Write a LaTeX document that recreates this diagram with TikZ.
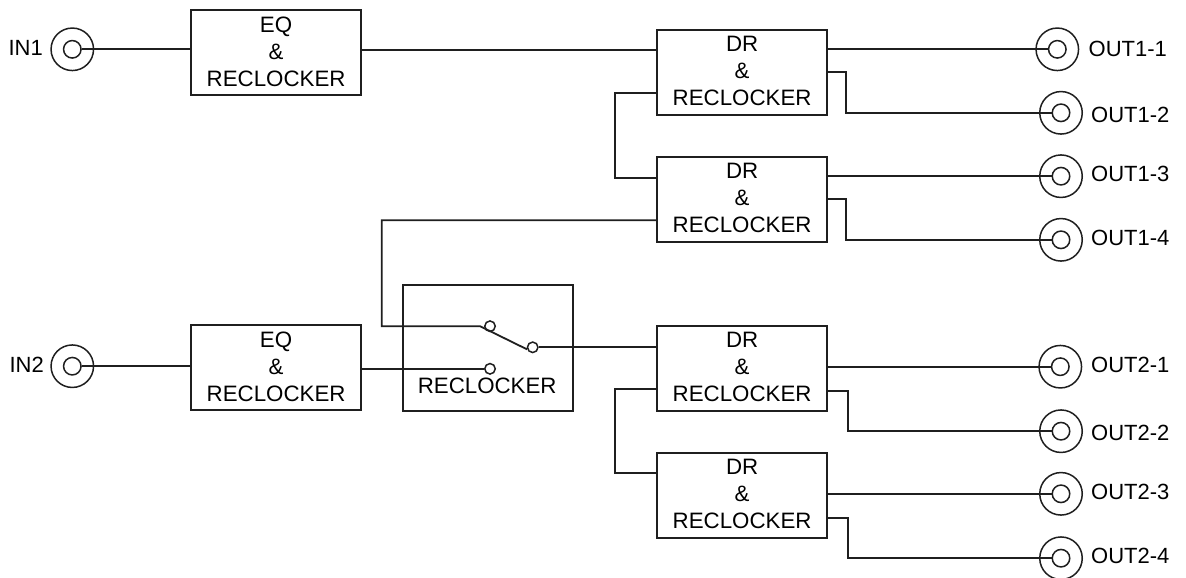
\documentclass[tikz,border=0pt]{standalone}
\usepackage{fontspec}
\setmainfont{Liberation Sans}
\tikzset{
  wire/.style={draw=black!88,line width=1.8pt,line join=miter},
  unit/.style={draw=black!88,line width=1.8pt,minimum width=170pt,minimum height=85pt,inner sep=0pt,align=center,font=\fontsize{22.3}{27}\selectfont,anchor=north west,text depth=4pt},
  outer/.style={circle,draw=black!88,line width=1.5pt,minimum size=42.5pt,inner sep=0pt},
  inner/.style={circle,draw=black!88,line width=1.5pt,minimum size=17.5pt,inner sep=0pt},
  contact/.style={circle,draw=black!88,line width=1.5pt,minimum size=10.5pt,inner sep=0pt},
  lab/.style={font=\fontsize{22}{26}\selectfont,inner sep=0pt},
}
\begin{document}
\begin{tikzpicture}[x=1pt,y=-1pt]
\useasboundingbox (0,0) rectangle (1186,578);
\node[unit,text depth=0.5pt] (eqa) at (190.2,8.8) {EQ\\\&\\RECLOCKER};
\node[unit,text depth=2.5pt] (eqb) at (190.2,324.2) {EQ\\\&\\RECLOCKER};
\node[unit,text depth=2.5pt] (dra) at (656.2,28.8) {DR\\\&\\RECLOCKER};
\node[unit,text depth=2pt] (drb) at (656.2,155.8) {DR\\\&\\RECLOCKER};
\node[unit,text depth=3pt] (drc) at (656.2,325.2) {DR\\\&\\RECLOCKER};
\node[unit,text depth=3.5pt] (drd) at (656.2,452.2) {DR\\\&\\RECLOCKER};
\node[draw=black!88,line width=1.8pt,minimum width=169.5pt,minimum height=126pt,inner sep=0pt,anchor=north west] (sw) at (402.2,284) {};
\node[lab,font=\fontsize{22.3}{26}\selectfont] (swl) at (487.2,386) {RECLOCKER};
\node[outer] (ina) at (72.3,49.3) {}; \node[inner] (inai) at (72.3,49.3) {};
\node[outer] (inb) at (72.3,366.2) {}; \node[inner] (inbi) at (72.3,366.2) {};
\node[lab,anchor=east] (inal) at (43,47.5) {IN1};
\node[lab,anchor=east] (inbl) at (44,365.3) {IN2};
\foreach \n/\x/\y/\lx/\ly/\t in {oa/1057.3/49.3/1088.5/49.3/OUT1-1,ob/1061/112.8/1091/115.3/OUT1-2,oc/1061/176.2/1091/174/OUT1-3,od/1061/239.8/1091/238/OUT1-4,oe/1060.3/366.7/1091/364.7/OUT2-1,of/1061/431.2/1091/432.7/OUT2-2,og/1061/493.8/1091/492/OUT2-3,oh/1061/558.2/1091/556.3/OUT2-4}{
  \node[outer] (\n) at (\x,\y) {};
  \node[inner] (\n i) at (\x,\y) {};
  \node[lab,anchor=west] (\n l) at (\lx,\ly) {\t};
}
\node[contact] (ca) at (490,326.2) {};
\node[contact] (cb) at (532.7,347.3) {};
\node[contact] (cc) at (490,368.8) {};
\coordinate (wa) at (381.7,220.2);
\coordinate (wb) at (381.7,326.2);
\coordinate (wc) at (480,326.2);
\coordinate (ja) at (500,50.2);
\coordinate (la) at (615.2,93.3);
\coordinate (lb) at (615.2,177.7);
\coordinate (lc) at (615.2,389.3);
\coordinate (ld) at (615.2,473.2);
\coordinate (ra) at (846.2,71.8);
\coordinate (rb) at (846.2,112.8);
\coordinate (rc) at (846.2,199);
\coordinate (rd) at (846.2,239.8);
\coordinate (re) at (847.7,390.8);
\coordinate (rf) at (847.7,431.2);
\coordinate (rg) at (847.7,517.8);
\coordinate (rh) at (847.7,558.2);
\draw[wire] (inai.east) -- (inai.east -| eqa.west);
\draw[wire] (inbi.east) -- (inbi.east -| eqb.west);
\draw[wire] (eqa.east |- ja) -- (ja -| dra.west);
\draw[wire] (eqb.east |- cc) -- (cc.west);
\draw[wire] (cb.east) -- (cb.east -| drc.west);
\draw[wire] (drb.west |- wa) -- (wa) -- (wb) -- (wc) -- (cb.200);
\draw[wire] (dra.west |- la) -- (la) -- (lb) -- (drb.west |- lb);
\draw[wire] (drc.west |- lc) -- (lc) -- (ld) -- (drd.west |- ld);
\draw[wire] (dra.east |- oai) -- (oai.west);
\draw[wire] (dra.east |- ra) -- (ra) -- (rb) -- (obi.west);
\draw[wire] (drb.east |- oci) -- (oci.west);
\draw[wire] (drb.east |- rc) -- (rc) -- (rd) -- (odi.west);
\draw[wire] (drc.east |- oei) -- (oei.west);
\draw[wire] (drc.east |- re) -- (re) -- (rf) -- (ofi.west);
\draw[wire] (drd.east |- ogi) -- (ogi.west);
\draw[wire] (drd.east |- rg) -- (rg) -- (rh) -- (ohi.west);
\end{tikzpicture}
\end{document}
